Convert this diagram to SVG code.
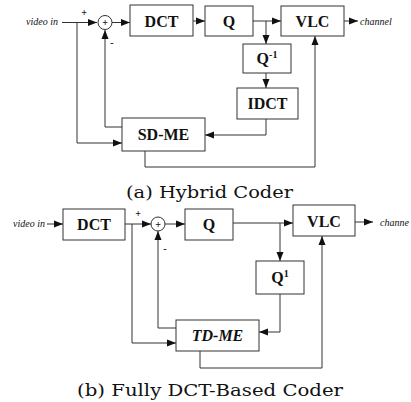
<svg xmlns="http://www.w3.org/2000/svg" width="411" height="402" viewBox="0 0 411 402">
<defs>
<marker id="ah" markerUnits="userSpaceOnUse" markerWidth="10" markerHeight="8" refX="9" refY="4" orient="auto">
<path d="M0,0.5 L9,4 L0,7.5 Z" fill="#111"/>
</marker>
<style>
.box{fill:#fff;stroke:#333;stroke-width:1}
.ln{fill:none;stroke:#333;stroke-width:1}
.lb{font-family:"Liberation Serif",serif;font-weight:bold;font-size:16px;fill:#111;text-anchor:middle}
.it{font-family:"Liberation Serif",serif;font-style:italic;font-size:10px;fill:#111}
.sg{font-family:"Liberation Serif",serif;font-weight:bold;font-size:10px;fill:#111;text-anchor:middle}
.cap{font-family:"DejaVu Serif",serif;font-size:16px;fill:#111;text-anchor:middle}
.sum{fill:#fff;stroke:#333;stroke-width:1}
</style>
</defs>
<rect width="411" height="402" fill="#fff"/>

<g id="connectors">
<!-- top -->
<path class="ln" d="M62,22.5 H97" marker-end="url(#ah)"/>
<path class="ln" d="M77,22.5 V143 H122" marker-end="url(#ah)"/>
<path class="ln" d="M122,127 H105 V30" marker-end="url(#ah)"/>
<path class="ln" d="M112,22.5 H130" marker-end="url(#ah)"/>
<path class="ln" d="M193,21 H205" marker-end="url(#ah)"/>
<path class="ln" d="M253,21 H281" marker-end="url(#ah)"/>
<path class="ln" d="M266,21 V44" marker-end="url(#ah)"/>
<path class="ln" d="M266,73 V88" marker-end="url(#ah)"/>
<path class="ln" d="M266,119 V135 H205" marker-end="url(#ah)"/>
<path class="ln" d="M145,151 V167 H315 V36" marker-end="url(#ah)"/>
<path class="ln" d="M344,21 H358" marker-end="url(#ah)"/>
<!-- bottom -->
<path class="ln" d="M47,224 H63" marker-end="url(#ah)"/>
<path class="ln" d="M125,224 H151" marker-end="url(#ah)"/>
<path class="ln" d="M132,224 V343 H176" marker-end="url(#ah)"/>
<path class="ln" d="M176,328 H158 V231" marker-end="url(#ah)"/>
<path class="ln" d="M165,224 H185" marker-end="url(#ah)"/>
<path class="ln" d="M233,223 H293" marker-end="url(#ah)"/>
<path class="ln" d="M280,223 V261" marker-end="url(#ah)"/>
<path class="ln" d="M280,294 V332 H259" marker-end="url(#ah)"/>
<path class="ln" d="M200,351 V368 H322 V236" marker-end="url(#ah)"/>
<path class="ln" d="M355,222 H373" marker-end="url(#ah)"/>
</g>

<!-- top diagram -->
<g id="in-a"><text class="it" x="26" y="25">video in</text></g>
<g id="sum-a">
<circle class="sum" cx="105" cy="22.5" r="7"/>
<text class="sg" x="105" y="26">+</text>
<text class="sg" x="84" y="16">+</text>
<text class="sg" x="112" y="46">-</text>
</g>
<g id="dct-a"><rect class="box" x="130" y="5" width="63" height="31"/><text class="lb" x="161.5" y="26.5">DCT</text></g>
<g id="q-a"><rect class="box" x="205" y="6" width="48" height="30"/><text class="lb" x="229" y="26.5">Q</text></g>
<g id="vlc-a"><rect class="box" x="281" y="6" width="63" height="30"/><text class="lb" x="312.5" y="26.5">VLC</text></g>
<g id="qinv-a"><rect class="box" x="243" y="44" width="48" height="29"/><text class="lb" x="267" y="64">Q<tspan font-size="10" dy="-6">-1</tspan></text></g>
<g id="idct-a"><rect class="box" x="237" y="88" width="61" height="31"/><text class="lb" x="267.5" y="109">IDCT</text></g>
<g id="sdme-a"><rect class="box" x="122" y="118" width="83" height="33"/><text class="lb" x="163.5" y="140">SD-ME</text></g>
<g id="out-a"><text class="it" x="360" y="25">channel</text></g>
<g id="cap-a"><text class="cap" x="209.5" y="198" textLength="167" lengthAdjust="spacingAndGlyphs">(a) Hybrid Coder</text></g>

<!-- bottom diagram -->
<g id="in-b"><text class="it" x="13" y="227">video in</text></g>
<g id="dct-b"><rect class="box" x="63" y="209" width="62" height="31"/><text class="lb" x="94" y="230">DCT</text></g>
<g id="sum-b">
<circle class="sum" cx="158" cy="224" r="7"/>
<text class="sg" x="158" y="227.5">+</text>
<text class="sg" x="138" y="217">+</text>
<text class="sg" x="165" y="252">-</text>
</g>
<g id="q-b"><rect class="box" x="185" y="209" width="48" height="31"/><text class="lb" x="209" y="230">Q</text></g>
<g id="vlc-b"><rect class="box" x="293" y="205" width="62" height="31"/><text class="lb" x="324" y="227">VLC</text></g>
<g id="qinv-b"><rect class="box" x="256" y="261" width="48" height="33"/><text class="lb" x="280" y="283">Q<tspan font-size="10" dy="-6">1</tspan></text></g>
<g id="tdme-b"><rect class="box" x="176" y="320" width="83" height="31"/><text class="lb" x="217.5" y="341" font-style="italic">TD-ME</text></g>
<g id="out-b"><text class="it" x="380" y="226">channe</text></g>
<g id="cap-b"><text class="cap" x="210" y="396" textLength="266" lengthAdjust="spacingAndGlyphs">(b) Fully DCT-Based Coder</text></g>
</svg>
